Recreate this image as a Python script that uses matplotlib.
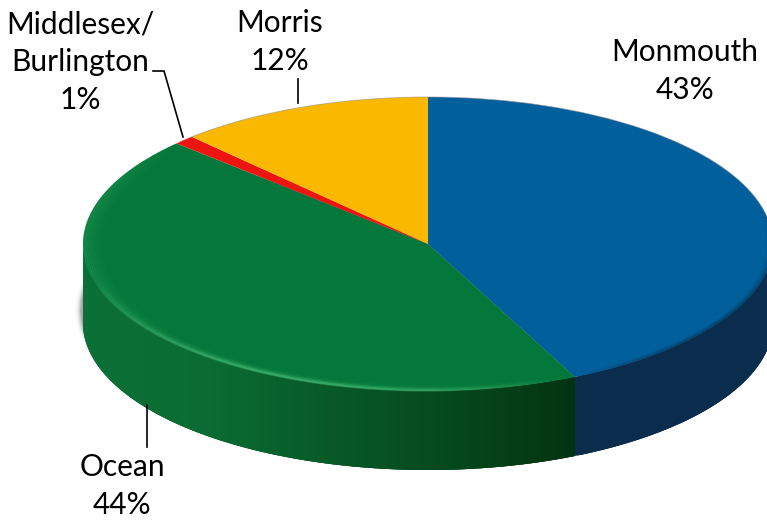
import numpy as np
from matplotlib import pyplot as plt
from matplotlib.collections import LineCollection
from matplotlib.colors import to_rgb

# pie slices, clockwise from 12 o'clock
names = ['Monmouth', 'Ocean', 'Middlesex/\nBurlington', 'Morris']
shares = [43, 44, 1, 12]
top_colors = ['#01609c', '#04783a', '#ee1410', '#fab800']

W, H = 767, 521
CX, CY = 428, 244      # pixel centre of the top face
RX, RY = 345, 147
DEPTH = 79 / RY


def px(x, y):
    """pixel position -> axes data position (unit circle is the top face)"""
    return (x - CX) / RX, (CY - y) / RY


def side_color(name, x):
    # shading of the rim, x is -1..1 across the pie
    if name == 'Monmouth':
        stops = [(-1, '#0a2d4d'), (1, '#0a2d4d')]
    elif name == 'Ocean':
        stops = [(-1.0, '#0b7036'), (-0.65, '#0a6c33'), (-0.3, '#075a27'),
                 (0.1, '#05461b'), (0.45, '#033210'), (1.0, '#033210')]
    else:
        stops = [(-1, '#333333'), (1, '#333333')]
    xs = [s[0] for s in stops]
    rgb = np.array([to_rgb(s[1]) for s in stops])
    return [np.interp(x, xs, rgb[:, i]) for i in range(3)]


def bevel(ax, a0, a1, k, peak, color='#4ec07a', lw=1.6):
    # arc inside the top face which fades out at both ends
    a = np.radians(np.linspace(a0, a1, 200))
    xy = np.column_stack([k * np.cos(a), k * np.sin(a)])
    segs = np.stack([xy[:-1], xy[1:]], axis=1)
    fade = np.sin(np.linspace(0, np.pi, len(segs))) ** 0.8 * peak
    rgba = np.tile(to_rgb(color) + (0,), (len(segs), 1))
    rgba[:, 3] = fade
    ax.add_collection(LineCollection(segs, colors=rgba, linewidths=lw, zorder=4,
                                     capstyle='butt'))


def main():
    fig = plt.figure(figsize=(W / 100, H / 100), dpi=100)
    ax = fig.add_axes([0, 0, 1, 1])

    # soft shadow behind the rim
    t = np.linspace(0, 2 * np.pi, 300)
    for grow, alpha in zip([6, 4.5, 3.5, 2.5, 1.5, 0.8], [0.03, 0.05, 0.07, 0.1, 0.13, 0.18]):
        ax.fill((RX + grow) / RX * np.cos(t) - 1.5 / RX,
                (RY + grow) / RY * np.sin(t) - DEPTH * 0.8 - 3 / RY,
                color='#404040', alpha=alpha, lw=0, zorder=1)

    # rim: only the front half of each slice can be seen
    edges = 90 - np.cumsum([0] + shares) * 3.6
    for name, a0, a1 in zip(names, edges[:-1], edges[1:]):
        ang = np.radians(np.linspace(a1, a0, max(int(a0 - a1) * 2, 2)))
        ang = ang[np.sin(ang) <= 0.02]
        for i in range(len(ang) - 1):
            # each strip overlaps the next one, otherwise the seams show
            p, q = ang[i], ang[min(i + 3, len(ang) - 1)]
            xs = [np.cos(p), np.cos(q), np.cos(q), np.cos(p)]
            ys = [np.sin(p), np.sin(q), np.sin(q) - DEPTH, np.sin(p) - DEPTH]
            ax.fill(xs, ys, color=side_color(name, np.cos(p)), lw=0, zorder=2)

    # top face
    wedges, _ = ax.pie(shares, colors=top_colors, startangle=90, counterclock=False,
                       wedgeprops={'linewidth': 0})
    for w in wedges:
        w.set_zorder(3)

    # lighter bevel along the front edge of the green slice
    for k, peak in zip([0.998, 0.992, 0.985, 0.977, 0.968], [0.45, 0.5, 0.3, 0.15, 0.06]):
        bevel(ax, 195, 292, k, peak, lw=1.4)
    for k, peak in zip(np.linspace(0.996, 0.95, 8), np.linspace(0.16, 0.02, 8)):
        bevel(ax, 138, 225, k, peak, lw=2.2)
    # dark blur along the front edge of the blue slice
    for k, peak in zip([0.998, 0.992, 0.985], [0.5, 0.3, 0.12]):
        bevel(ax, 296, 372, k, peak, color='#0a2d4d')

    # thin grey line on the back edge
    a = np.radians(np.linspace(0, 136, 200))
    ax.plot(np.cos(a), np.sin(a), color='#888888', lw=0.6, alpha=0.6, zorder=4)

    # leader lines
    for pts in ([(298, 79), (298, 103)],
                [(153, 71), (164, 71), (183, 137)],
                [(147, 405), (147, 447)]):
        xy = np.array([px(*p) for p in pts])
        ax.plot(xy[:, 0], xy[:, 1], color='black', lw=1.2, zorder=5, solid_joinstyle='miter')

    # labels
    spots = [(685, 71), (122, 486), (80, 62), (280, 42)]
    for name, share, (x, y) in zip(names, shares, spots):
        ax.text(*px(x, y), f'{name}\n{share}%', ha='center', va='center', fontsize=21.5,
                family='Lato', color='black', linespacing=1.42, zorder=6)

    # pie() forces equal aspect, the tilted look comes from stretching the axes
    ax.set_aspect('auto')
    ax.set_xlim(px(0, 0)[0], px(W, 0)[0])
    ax.set_ylim(px(0, H)[1], px(0, 0)[1])
    ax.axis('off')
    fig.savefig('out.png', dpi=100)


if __name__ == '__main__':
    main()
